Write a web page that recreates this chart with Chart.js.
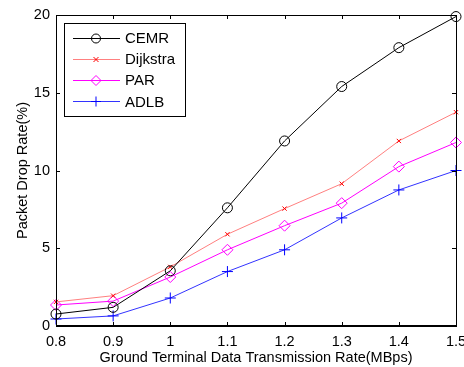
<!DOCTYPE html>
<html>
<head>
<meta charset="utf-8">
<script src="https://cdn.jsdelivr.net/npm/chart.js@4/dist/chart.umd.min.js"></script>
<style>
  html, body { margin: 0; padding: 0; background: #fff; overflow: hidden; }
  #wrap { width: 464px; height: 367px; }
</style>
</head>
<body>
<div id="wrap"><canvas id="chart" width="464" height="367"></canvas></div>
<script>
const rates = [0.8, 0.9, 1.0, 1.1, 1.2, 1.3, 1.4, 1.5];
const xTicks = [0.8, 0.9, 1, 1.1, 1.2, 1.3, 1.4, 1.5];
const yTicks = [0, 5, 10, 15, 20];

const cemr     = [0.77, 1.2, 3.55, 7.6, 11.9, 15.4, 17.9, 19.9];
const dijkstra = [1.55, 1.95, 3.8, 5.9, 7.55, 9.15, 11.9, 13.75];
const par      = [1.35, 1.6, 3.15, 4.9, 6.45, 7.9, 10.25, 11.8];
const adlb     = [0.45, 0.65, 1.8, 3.5, 4.9, 6.95, 8.75, 10.0];

const FONT = "Arial, 'Liberation Sans', sans-serif";

function pts(vals) {
  return vals.map((v, i) => ({ x: rates[i], y: v }));
}

// r = marker size on the plot, lr = size in the legend box
const series = [
  { label: 'CEMR', data: cemr, line: '#000000', mark: '#000000', style: 'circle', r: 5, lr: 4.5 },
  { label: 'Dijkstra', data: dijkstra, line: '#ff8080', mark: '#ff0000', style: 'crossRot', r: 3, lr: 2.5 },
  { label: 'PAR', data: par, line: '#ff00ff', mark: '#ff00ff', style: 'rectRot', r: 5.5, lr: 5 },
  { label: 'ADLB', data: adlb, line: '#3333ff', mark: '#0000ff', style: 'cross', r: 5.5, lr: 5 }
];

function drawMarker(ctx, style, x, y, r, color) {
  ctx.save();
  ctx.strokeStyle = color;
  ctx.lineWidth = 1;
  ctx.beginPath();
  if (style === 'circle') {
    ctx.arc(x, y, r, 0, Math.PI * 2);
  } else if (style === 'crossRot') {
    ctx.moveTo(x - r, y - r); ctx.lineTo(x + r, y + r);
    ctx.moveTo(x - r, y + r); ctx.lineTo(x + r, y - r);
  } else if (style === 'rectRot') {
    ctx.moveTo(x, y - r); ctx.lineTo(x + r, y); ctx.lineTo(x, y + r); ctx.lineTo(x - r, y); ctx.closePath();
  } else if (style === 'cross') {
    ctx.moveTo(x - r, y); ctx.lineTo(x + r, y);
    ctx.moveTo(x, y - r); ctx.lineTo(x, y + r);
  }
  ctx.stroke();
  ctx.restore();
}

const frame = {
  id: 'frame',
  beforeDraw(chart) {
    const ctx = chart.ctx;
    ctx.save();
    ctx.fillStyle = '#fff';
    ctx.fillRect(0, 0, chart.width, chart.height);
    ctx.restore();
  },
  afterDraw(chart) {
    const ctx = chart.ctx;
    const a = chart.chartArea;
    const xs = chart.scales.x, ys = chart.scales.y;
    ctx.save();
    ctx.strokeStyle = '#000';
    ctx.lineWidth = 1;
    ctx.strokeRect(a.left + 0.5, a.top + 0.5, a.right - a.left, a.bottom - a.top);
    ctx.lineWidth = 2;
    ctx.beginPath();
    ctx.moveTo(a.left, a.bottom);
    ctx.lineTo(a.right + 1, a.bottom);
    ctx.stroke();
    // inward ticks on all four sides
    ctx.lineWidth = 1;
    ctx.beginPath();
    const tl = 4;
    xTicks.forEach(v => {
      const px = Math.round(xs.getPixelForValue(v)) + 0.5;
      ctx.moveTo(px, a.bottom); ctx.lineTo(px, a.bottom - tl);
      ctx.moveTo(px, a.top); ctx.lineTo(px, a.top + tl);
    });
    yTicks.forEach(v => {
      const py = Math.round(ys.getPixelForValue(v)) + 0.5;
      ctx.moveTo(a.left, py); ctx.lineTo(a.left + tl, py);
      ctx.moveTo(a.right, py); ctx.lineTo(a.right - tl, py);
    });
    ctx.stroke();

    // legend
    const lx = 64, ly = 23, lw = 121, lh = 93;
    ctx.fillStyle = '#fff';
    ctx.fillRect(lx, ly, lw, lh);
    ctx.strokeStyle = '#000';
    ctx.strokeRect(lx + 0.5, ly + 0.5, lw, lh);
    ctx.font = '15px ' + FONT;
    ctx.textBaseline = 'middle';
    ctx.textAlign = 'left';
    series.forEach((s, i) => {
      const y = ly + 14.5 + i * 21.3;
      ctx.strokeStyle = s.line;
      ctx.beginPath();
      ctx.moveTo(lx + 9, Math.round(y) + 0.5);
      ctx.lineTo(lx + 56, Math.round(y) + 0.5);
      ctx.stroke();
      drawMarker(ctx, s.style, lx + 32, Math.round(y) + 0.5, s.lr, s.mark);
      ctx.fillStyle = '#000';
      ctx.fillText(s.label, lx + 61, y + 1);
    });
    ctx.restore();
  }
};

new Chart(document.getElementById('chart'), {
  type: 'line',
  data: {
    datasets: series.map(s => ({
      label: s.label,
      data: pts(s.data),
      borderColor: s.line,
      borderWidth: 1,
      pointStyle: s.style,
      pointRadius: s.r,
      pointBorderColor: s.mark,
      pointBackgroundColor: 'rgba(0,0,0,0)',
      pointBorderWidth: 1,
      tension: 0,
      clip: false
    }))
  },
  options: {
    responsive: false,
    animation: false,
    events: [],
    layout: { padding: { left: 0, top: 15, right: 8, bottom: 0 } },
    plugins: { legend: { display: false }, tooltip: { enabled: false } },
    scales: {
      x: {
        type: 'linear',
        min: 0.8,
        max: 1.5,
        afterBuildTicks: s => { s.ticks = xTicks.map(v => ({ value: v })); },
        afterFit: s => { s.height = 41; s.paddingLeft = 0; s.paddingRight = 0; },
        grid: { display: false, drawTicks: false },
        border: { display: false },
        ticks: {
          color: '#000',
          font: { family: FONT, size: 14.5 },
          padding: 7,
          maxRotation: 0,
          callback: v => String(v)
        },
        title: {
          display: true,
          text: 'Ground Terminal Data Transmission Rate(MBps)',
          color: '#000',
          font: { family: FONT, size: 14.5 },
          padding: { top: 0, bottom: 0 }
        }
      },
      y: {
        min: 0,
        max: 20,
        afterBuildTicks: s => { s.ticks = yTicks.map(v => ({ value: v })); },
        afterFit: s => { s.width = 56; s.paddingTop = 0; s.paddingBottom = 0; },
        grid: { display: false, drawTicks: false },
        border: { display: false },
        ticks: {
          color: '#000',
          font: { family: FONT, size: 14.5 },
          padding: 6
        },
        title: {
          display: true,
          text: 'Packet Drop Rate(%)',
          color: '#000',
          font: { family: FONT, size: 14.5 },
          padding: { top: 14, bottom: 0 }
        }
      }
    }
  },
  plugins: [frame]
});
</script>
</body>
</html>
